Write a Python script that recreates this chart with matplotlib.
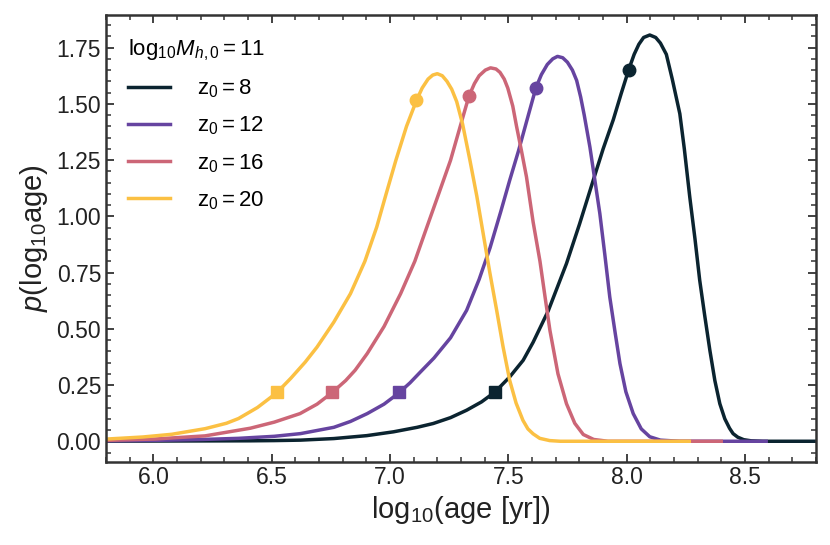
import matplotlib
matplotlib.use('Agg')
import matplotlib.pyplot as plt
from matplotlib.ticker import MultipleLocator

plt.rcParams['font.family'] = ['Liberation Sans', 'DejaVu Sans']
plt.rcParams['mathtext.fontset'] = 'custom'
plt.rcParams['mathtext.rm'] = 'Liberation Sans'
plt.rcParams['mathtext.it'] = 'Liberation Sans:italic'
plt.rcParams['mathtext.bf'] = 'Liberation Sans:bold'

# curves: log10(age) vs p(log10 age)
x_z8 = [5.6, 6.007, 6.41, 6.511, 6.622, 6.763, 6.902, 7.015, 7.115, 7.183,
        7.256, 7.324, 7.387, 7.444, 7.506, 7.563, 7.605, 7.669, 7.746, 7.801,
        7.859, 7.901, 7.944, 7.977, 8.009, 8.032, 8.052, 8.072, 8.098, 8.123,
        8.143, 8.168, 8.193, 8.225, 8.244, 8.267, 8.289, 8.309, 8.33, 8.352,
        8.373, 8.394, 8.415, 8.435, 8.45, 8.47, 8.495, 8.526, 8.576, 8.9]
y_z8 = [0.0, 0.001, 0.002, 0.003, 0.005, 0.012, 0.025, 0.042, 0.062, 0.079,
        0.105, 0.138, 0.175, 0.219, 0.286, 0.36, 0.44, 0.58, 0.79, 0.965,
        1.16, 1.30, 1.43, 1.545, 1.652, 1.72, 1.765, 1.795, 1.806, 1.795,
        1.77, 1.72, 1.61, 1.456, 1.30, 1.086, 0.90, 0.716, 0.56, 0.404, 0.27,
        0.167, 0.10, 0.058, 0.034, 0.018, 0.007, 0.002, 0.0, 0.0]

x_z12 = [5.6, 5.806, 6.007, 6.209, 6.36, 6.511, 6.622, 6.763, 6.833, 6.904,
         6.975, 7.038, 7.085, 7.126, 7.186, 7.256, 7.324, 7.377, 7.423, 7.468,
         7.506, 7.543, 7.577, 7.617, 7.64, 7.665, 7.688, 7.708, 7.73, 7.75,
         7.771, 7.789, 7.806, 7.821, 7.845, 7.866, 7.887, 7.908, 7.929, 7.952,
         7.972, 7.997, 8.028, 8.062, 8.098, 8.143, 8.224, 8.59]
y_z12 = [0.0, 0.002, 0.004, 0.008, 0.013, 0.022, 0.034, 0.062, 0.088, 0.123,
         0.165, 0.215, 0.26, 0.305, 0.37, 0.46, 0.582, 0.72, 0.86, 1.02, 1.16,
         1.29, 1.42, 1.572, 1.63, 1.675, 1.70, 1.711, 1.705, 1.685, 1.65,
         1.604, 1.53, 1.45, 1.308, 1.16, 1.012, 0.83, 0.641, 0.48, 0.345,
         0.22, 0.123, 0.055, 0.02, 0.005, 0.0, 0.0]

x_z16 = [5.6, 5.806, 6.007, 6.219, 6.41, 6.511, 6.62, 6.692, 6.754, 6.813,
         6.853, 6.904, 6.975, 7.045, 7.105, 7.156, 7.206, 7.256, 7.297, 7.334,
         7.357, 7.377, 7.403, 7.425, 7.448, 7.465, 7.483, 7.498, 7.519, 7.535,
         7.556, 7.577, 7.605, 7.634, 7.655, 7.676, 7.71, 7.746, 7.781, 7.817,
         7.861, 7.921, 8.40]
y_z16 = [0.001, 0.004, 0.010, 0.024, 0.058, 0.085, 0.123, 0.165, 0.215, 0.27,
         0.316, 0.39, 0.51, 0.656, 0.80, 0.952, 1.10, 1.249, 1.40, 1.535, 1.59,
         1.625, 1.65, 1.66, 1.655, 1.64, 1.61, 1.57, 1.49, 1.40, 1.29, 1.175,
         0.975, 0.80, 0.645, 0.493, 0.30, 0.167, 0.08, 0.030, 0.008, 0.0, 0.0]

x_z20 = [5.6, 5.806, 5.956, 6.078, 6.219, 6.309, 6.36, 6.44, 6.521, 6.581,
         6.642, 6.692, 6.763, 6.833, 6.894, 6.944, 6.984, 7.025, 7.07, 7.112,
         7.136, 7.161, 7.181, 7.2, 7.221, 7.241, 7.261, 7.282, 7.307, 7.338,
         7.367, 7.394, 7.422, 7.451, 7.478, 7.506, 7.533, 7.562, 7.583, 7.605,
         7.633, 7.675, 7.72, 8.265]
y_z20 = [0.003, 0.010, 0.019, 0.031, 0.056, 0.08, 0.101, 0.15, 0.215, 0.28,
         0.352, 0.419, 0.53, 0.656, 0.80, 0.952, 1.10, 1.249, 1.40, 1.515,
         1.57, 1.61, 1.628, 1.634, 1.625, 1.60, 1.565, 1.51, 1.41, 1.249,
         1.09, 0.923, 0.75, 0.582, 0.42, 0.271, 0.17, 0.093, 0.055, 0.033,
         0.013, 0.003, 0.0, 0.0]

# marked points on each curve
circle_x = [8.009, 7.617, 7.334, 7.112]
circle_y = [1.652, 1.572, 1.535, 1.515]
square_x = [7.444, 7.038, 6.754, 6.521]
square_y = [0.217, 0.217, 0.217, 0.217]

labels = [r'$\mathrm{z}_0 = 8$', r'$\mathrm{z}_0 = 12$', r'$\mathrm{z}_0 = 16$', r'$\mathrm{z}_0 = 20$']
colors = ['#0b2430', '#6644a0', '#cc6677', '#fbc043']
xs = [x_z8, x_z12, x_z16, x_z20]
ys = [y_z8, y_z12, y_z16, y_z20]

fig = plt.figure(figsize=(8.3, 5.45), dpi=100)
ax = fig.add_axes([0.1277, 0.1532, 0.8553, 0.8193])

for i in range(4):
    ax.plot(xs[i], ys[i], color=colors[i], lw=2.5, label=labels[i])
    ax.plot(circle_x[i], circle_y[i], 'o', color=colors[i], ms=9)
    ax.plot(square_x[i], square_y[i], 's', color=colors[i], ms=9)

ax.set_xlim(5.8, 8.8)
ax.set_ylim(-0.09, 1.895)
ax.xaxis.set_major_locator(MultipleLocator(0.5))
ax.xaxis.set_minor_locator(MultipleLocator(0.1))
ax.yaxis.set_major_locator(MultipleLocator(0.25))
ax.yaxis.set_minor_locator(MultipleLocator(0.05))
ax.tick_params(which='both', direction='in', top=True, right=True, colors='#333333',
               labelcolor='#222222', labelsize=16.5)
ax.tick_params(which='major', length=6, width=1.3)
ax.tick_params(which='minor', length=3.5, width=1.1)
for s in ax.spines.values():
    s.set_color('#333333')
    s.set_linewidth(1.8)

ax.set_xlabel(r'log$_{10}$(age [yr])', fontsize=21, color='#222222', labelpad=3)
ax.set_ylabel(r'$p$(log$_{10}$age)', fontsize=21, color='#222222', labelpad=5)

leg = ax.legend(loc='upper left', frameon=False, fontsize=16,
                title=r'log$_{10}M_{h,0} = 11$', title_fontsize=16,
                handlelength=1.9, handletextpad=1.2, labelspacing=0.66,
                borderaxespad=0.6)
leg._legend_box.align = 'left'

fig.savefig('out.png', dpi=100)
